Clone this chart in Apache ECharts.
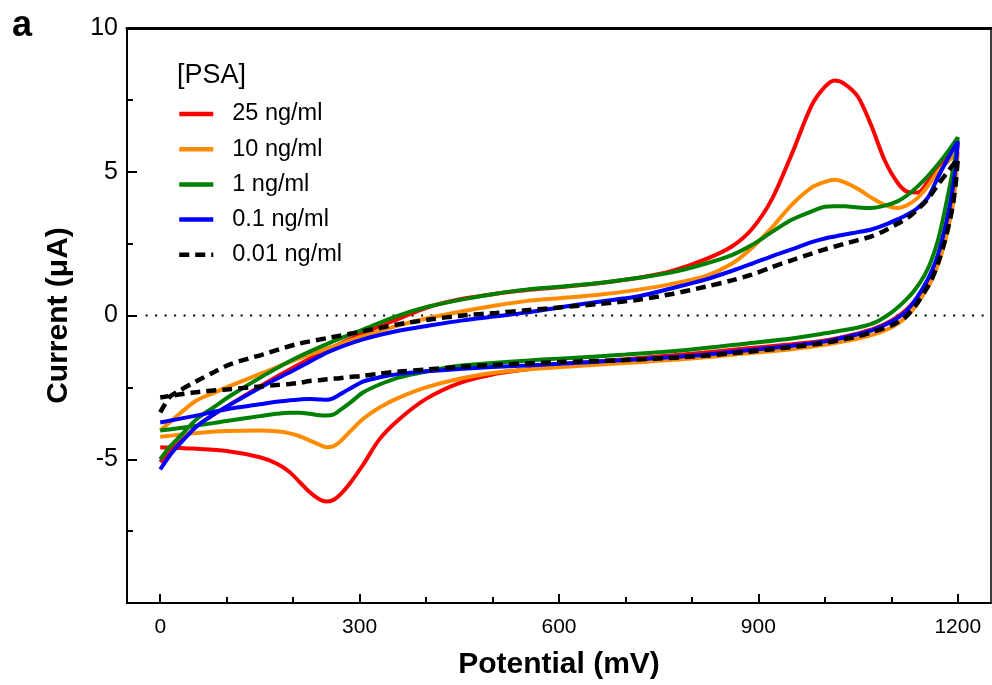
<!DOCTYPE html>
<html>
<head>
<meta charset="utf-8">
<script src="https://cdn.jsdelivr.net/npm/echarts@6/dist/echarts.min.js"></script>
<style>html,body{margin:0;padding:0;background:#fff}#c{width:992px;height:685px}</style>
</head>
<body>
<div id="c"></div>
<script>
// Potential grids (mV)
const fwdX = [0, 15, 30, 55, 80, 105, 155, 205, 255, 305, 355, 405, 455, 505, 550, 600, 660, 720, 770, 820, 860, 890, 920, 950, 980, 1000, 1015, 1030, 1050, 1070, 1090, 1110, 1125, 1140, 1155, 1170, 1185, 1200];
const revX = [1200, 1197, 1193, 1188, 1180, 1170, 1160, 1150, 1135, 1120, 1100, 1075, 1050, 1000, 950, 880, 800, 700, 600, 550, 500, 450, 400, 360, 330, 305, 285, 270, 260, 250, 240, 225, 210, 195, 175, 150, 100, 50, 0];

// Current (uA) — forward scans
const fwd25 = [-5.1, -4.7, -4.4, -3.85, -3.45, -3.1, -2.4, -1.75, -1.15, -0.62, -0.15, 0.3, 0.58, 0.76, 0.88, 0.98, 1.12, 1.31, 1.55, 1.95, 2.4, 3.0, 4.03, 5.6, 7.3, 7.95, 8.17, 8.05, 7.6, 6.6, 5.4, 4.6, 4.3, 4.28, 4.65, 5.15, 5.6, 6.05];
const fwd10 = [-4.0, -3.7, -3.4, -2.95, -2.7, -2.45, -1.99, -1.53, -1.12, -0.72, -0.37, -0.08, 0.15, 0.35, 0.5, 0.6, 0.72, 0.9, 1.1, 1.37, 1.8, 2.35, 3.05, 3.85, 4.45, 4.65, 4.72, 4.63, 4.4, 4.1, 3.85, 3.74, 3.85, 4.1, 4.5, 5.0, 5.35, 5.7];
const fwd1 = [-5.0, -4.55, -4.2, -3.6, -3.2, -2.8, -2.1, -1.47, -0.95, -0.49, -0.03, 0.32, 0.56, 0.76, 0.9, 1.0, 1.13, 1.31, 1.5, 1.8, 2.1, 2.45, 2.9, 3.33, 3.62, 3.78, 3.8, 3.8, 3.76, 3.74, 3.82, 3.98, 4.2, 4.5, 4.85, 5.25, 5.7, 6.2];
const fwd01 = [-5.35, -4.85, -4.45, -3.85, -3.45, -3.1, -2.45, -1.85, -1.25, -0.83, -0.55, -0.35, -0.17, -0.03, 0.1, 0.28, 0.48, 0.67, 0.95, 1.25, 1.55, 1.8, 2.06, 2.3, 2.55, 2.68, 2.75, 2.82, 2.9, 2.99, 3.15, 3.35, 3.52, 3.75, 4.1, 4.8, 5.45, 6.05];
const fwd001 = [-3.37, -2.82, -2.6, -2.28, -1.98, -1.7, -1.35, -1.0, -0.77, -0.55, -0.32, -0.14, 0.0, 0.09, 0.18, 0.28, 0.4, 0.55, 0.75, 1.0, 1.22, 1.42, 1.68, 1.92, 2.15, 2.3, 2.4, 2.5, 2.62, 2.75, 2.95, 3.2, 3.4, 3.7, 4.05, 4.55, 5.0, 5.45];

// Current (uA) — reverse scans
const rev25 = [6.05, 5.2, 4.5, 3.8, 2.95, 2.05, 1.45, 1.0, 0.5, 0.15, -0.18, -0.45, -0.62, -0.87, -1.0, -1.15, -1.33, -1.52, -1.72, -1.88, -2.05, -2.35, -2.9, -3.6, -4.3, -5.2, -5.85, -6.25, -6.42, -6.47, -6.4, -6.15, -5.8, -5.45, -5.15, -4.93, -4.71, -4.63, -4.58];
const rev10 = [5.7, 4.7, 3.9, 3.3, 2.5, 1.75, 1.2, 0.8, 0.28, -0.1, -0.42, -0.65, -0.8, -1.02, -1.17, -1.32, -1.5, -1.65, -1.8, -1.88, -2.0, -2.2, -2.5, -2.85, -3.2, -3.6, -4.05, -4.4, -4.55, -4.58, -4.5, -4.35, -4.2, -4.1, -4.03, -4.0, -4.02, -4.1, -4.22];
const rev1 = [6.2, 5.6, 5.1, 4.5, 3.6, 2.6, 1.9, 1.4, 0.88, 0.5, 0.1, -0.25, -0.42, -0.62, -0.8, -0.98, -1.18, -1.36, -1.5, -1.57, -1.65, -1.75, -1.95, -2.15, -2.4, -2.68, -3.05, -3.3, -3.45, -3.48, -3.47, -3.42, -3.38, -3.38, -3.42, -3.5, -3.67, -3.85, -4.0];
const rev01 = [6.05, 5.2, 4.5, 3.8, 2.95, 2.1, 1.5, 1.05, 0.5, 0.1, -0.22, -0.48, -0.65, -0.9, -1.05, -1.22, -1.4, -1.55, -1.68, -1.74, -1.79, -1.86, -1.94, -2.03, -2.15, -2.3, -2.55, -2.75, -2.88, -2.93, -2.92, -2.9, -2.92, -2.95, -3.0, -3.09, -3.26, -3.5, -3.72];
const rev001 = [5.45, 4.6, 3.9, 3.3, 2.55, 1.8, 1.22, 0.82, 0.3, -0.08, -0.35, -0.55, -0.72, -0.95, -1.1, -1.27, -1.43, -1.55, -1.62, -1.67, -1.72, -1.79, -1.88, -1.95, -2.02, -2.1, -2.14, -2.18, -2.2, -2.22, -2.25, -2.28, -2.34, -2.38, -2.42, -2.47, -2.57, -2.68, -2.85];

const seriesNames = ['25 ng/ml', '10 ng/ml', '1 ng/ml', '0.1 ng/ml', '0.01 ng/ml'];
const seriesColors = ['#ff0000', '#ff8c00', '#008000', '#0000ff', '#000000'];
const fwdSets = [fwd25, fwd10, fwd1, fwd01, fwd001];
const revSets = [rev25, rev10, rev1, rev01, rev001];

const xMajorTicks = [0, 300, 600, 900, 1200];
const xMinorTicks = [100, 200, 400, 500, 700, 800, 1000, 1100];
const zeroLine = [[-22, 0], [1250, 0]];

const FONT = 'Arial, "Liberation Sans", Helvetica, sans-serif';

function loop(i) {
  return fwdX.map((x, k) => [x, fwdSets[i][k]]).concat(revX.map((x, k) => [x, revSets[i][k]]));
}

const series = seriesNames.map((n, i) => ({
  name: n,
  type: 'line',
  data: loop(i),
  symbol: 'none',
  smooth: 0.3,
  z: 3 + i,
  lineStyle: {
    color: seriesColors[i],
    width: i === 4 ? 4.5 : 4,
    type: i === 4 ? [10, 6] : 'solid'
  },
  itemStyle: { color: seriesColors[i] }
}));
series.unshift({
  name: 'zero',
  type: 'line',
  data: zeroLine,
  symbol: 'none',
  silent: true,
  z: 1,
  lineStyle: { color: '#000', width: 2.2, type: [2, 7.5] }
});

const chart = echarts.init(document.getElementById('c'));
chart.setOption({
  animation: false,
  grid: { left: 127, right: 1, top: 28, bottom: 82, containLabel: false },
  xAxis: [
    {
      type: 'value', min: -50, max: 1250, position: 'bottom',
      name: 'Potential (mV)', nameLocation: 'middle', nameGap: 47,
      nameTextStyle: { fontFamily: FONT, fontSize: 30, fontWeight: 'bold', color: '#000' },
      axisLine: { show: true, onZero: false, lineStyle: { color: '#000', width: 2 } },
      axisTick: { show: true, inside: true, length: 9, customValues: xMajorTicks, lineStyle: { color: '#000', width: 2 } },
      axisLabel: { show: true, customValues: xMajorTicks, margin: 14, fontFamily: FONT, fontSize: 21, color: '#000',
        formatter: v => String(v) },
      splitLine: { show: false }
    },
    {
      type: 'value', min: -50, max: 1250, position: 'bottom',
      axisLine: { show: false, onZero: false },
      axisTick: { show: true, inside: true, length: 6, customValues: xMinorTicks, lineStyle: { color: '#000', width: 2 } },
      axisLabel: { show: false },
      splitLine: { show: false }
    },
    {
      type: 'value', min: -50, max: 1250, position: 'top',
      axisLine: { show: true, onZero: false, lineStyle: { color: '#000', width: 3 } },
      axisTick: { show: false }, axisLabel: { show: false }, splitLine: { show: false }
    }
  ],
  yAxis: [
    {
      type: 'value', min: -10, max: 10, interval: 5, position: 'left',
      name: 'Current (\u03bcA)', nameLocation: 'middle', nameGap: 53, nameRotate: 90,
      nameTextStyle: { fontFamily: FONT, fontSize: 30, fontWeight: 'bold', color: '#000' },
      axisLine: { show: true, onZero: false, lineStyle: { color: '#000', width: 2 } },
      axisTick: { show: true, inside: true, length: 10, lineStyle: { color: '#000', width: 2 } },
      minorTick: { show: true, splitNumber: 2, length: 6, lineStyle: { color: '#000', width: 2 } },
      axisLabel: { margin: 9, fontFamily: FONT, fontSize: 25, color: '#000',
        formatter: v => (v === -10 ? '' : String(v)) },
      splitLine: { show: false }
    },
    {
      type: 'value', min: -10, max: 10, position: 'right',
      axisLine: { show: true, onZero: false, lineStyle: { color: '#000', width: 1.5 } },
      axisTick: { show: false }, axisLabel: { show: false }, splitLine: { show: false }
    }
  ],
  legend: {
    data: seriesNames,
    orient: 'vertical',
    left: 177, top: 102, padding: 0,
    itemWidth: 34, itemHeight: 14, itemGap: 11.2,
    itemStyle: { opacity: 0 },
    lineStyle: { width: 4.5 },
    textStyle: { fontFamily: FONT, fontSize: 23.5, color: '#000', lineHeight: 22, padding: [0, 0, 0, 14] }
  },
  graphic: [
    { type: 'text', left: 12, top: 8, style: { text: 'a', font: 'bold 36px ' + FONT, fill: '#000' } },
    { type: 'text', left: 177, top: 62, style: { text: '[PSA]', font: '27px ' + FONT, fill: '#000' } }
  ],
  series: series
});
</script>
</body>
</html>
